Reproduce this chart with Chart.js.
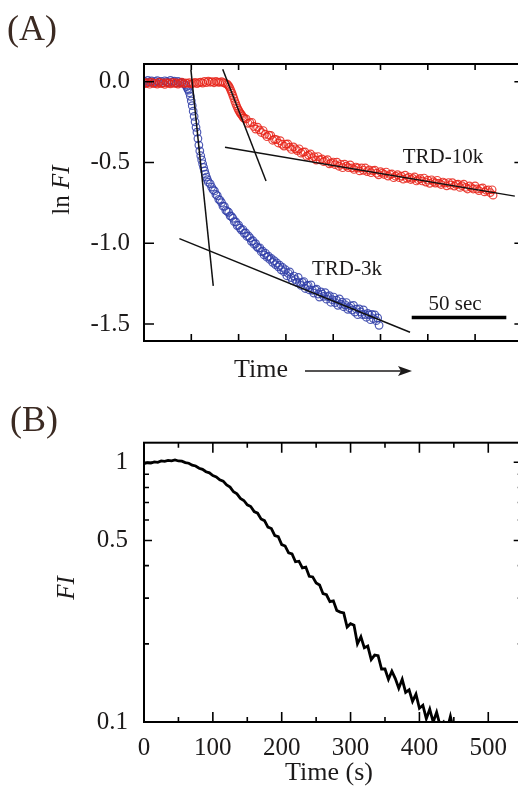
<!DOCTYPE html>
<html>
<head>
<meta charset="utf-8">
<script src="https://cdn.jsdelivr.net/npm/chart.js@4.4.0/dist/chart.umd.min.js"></script>
<style>
  html, body { margin: 0; padding: 0; background: #fff; width: 518px; height: 796px; overflow: hidden; }
  canvas { position: absolute; left: 0; }
  #chartA { top: 0; }
  #chartB { top: 400px; }
</style>
</head>
<body>
<canvas id="chartA" width="540" height="400"></canvas>
<canvas id="chartB" width="540" height="396"></canvas>
<script>
// ---- panel (A): ln FI against time (s), no tick labels on time ----
const xTicksA = [0, 25, 50, 75, 100, 125, 150, 175, 200];
const yTicksA = [-1.5, -1.0, -0.5, 0.0];

const blueTime = [0,1,2,3,4,5,6,7,8,9,10,11,12,13,14,15,16,17,18,19,20,21,
  22,22.5,23,23.5,24,24.5,25,25.5,26,26.5,27,27.5,28,28.5,29,29.5,30,30.5,31,31.5,32,32.5,33,33.5,34,
  35,35.75,36.5,37.25,38,38.75,39.5,40.25,41,41.75,42.5,43.25,44,44.75,45.5,46.25,47,47.75,48.5,49.25,
  50,50.75,51.5,52.25,53,53.75,54.5,55.25,56,56.75,57.5,58.25,59,59.75,60.5,61.25,62,62.75,63.5,64.25,
  65,65.75,66.5,67.25,68,68.75,69.5,70.25,71,71.75,72.5,73.25,74,
  74.75,75.5,76.25,77,77.75,78.5,79.25,80,80.75,81.5,82.25,83,83.75,84.5,85.25,86,86.75,87.5,88.25,89,
  89.75,90.5,91.25,92,92.75,93.5,94.25,95,95.75,96.5,97.25,98,98.75,99.5,100.25,101,101.75,102.5,103.25,104,
  104.75,105.5,106.25,107,107.75,108.5,109.25,110,110.75,111.5,112.25,113,113.75,114.5,115.25,116,116.75,117.5,118.25,119,
  119.75,120.5,121.25,122,122.75,123.5,124.25];
const blueLnFI = [0.004,-0.006,0.008,-0.002,0.005,-0.009,0.001,0.007,-0.004,0.003,-0.007,0.006,0.000,-0.005,0.008,-0.003,0.004,-0.008,0.002,-0.006,-0.004,-0.012,
  -0.020,-0.030,-0.042,-0.052,-0.068,-0.090,-0.118,-0.148,-0.182,-0.214,-0.248,-0.282,-0.312,-0.352,-0.392,-0.428,-0.458,-0.484,-0.508,-0.530,-0.552,-0.572,-0.590,-0.606,-0.622,
  -0.632,-0.652,-0.668,-0.676,-0.698,-0.705,-0.728,-0.734,-0.748,-0.770,-0.772,-0.796,-0.802,-0.808,-0.830,-0.834,-0.845,-0.866,-0.868,-0.890,
  -0.888,-0.906,-0.918,-0.915,-0.938,-0.936,-0.958,-0.955,-0.966,-0.988,-0.984,-1.006,-1.002,-1.022,-1.030,-1.028,-1.052,-1.048,-1.072,-1.062,
  -1.086,-1.080,-1.100,-1.094,-1.118,-1.108,-1.132,-1.122,-1.146,-1.136,-1.164,-1.150,-1.176,
  -1.164,-1.201,-1.186,-1.177,-1.212,-1.232,-1.203,-1.224,-1.242,-1.211,-1.244,-1.261,-1.242,-1.237,-1.280,-1.263,-1.260,-1.289,-1.258,-1.291,
  -1.308,-1.289,-1.284,-1.314,-1.333,-1.301,-1.315,-1.329,-1.306,-1.346,-1.330,-1.324,-1.365,-1.349,-1.333,-1.367,-1.352,-1.384,-1.344,-1.377,
  -1.365,-1.393,-1.381,-1.367,-1.409,-1.399,-1.387,-1.413,-1.385,-1.426,-1.408,-1.442,-1.406,-1.425,-1.441,-1.412,-1.442,-1.458,-1.434,-1.443,
  -1.473,-1.440,-1.466,-1.443,-1.479,-1.462,-1.508];

const redTime = [0,1,2,3,4,5,6,7,8,9,10,11,12,13,14,15,16,17,18,19,20,21,22,23,24,25,26,27,28,29,30,31,32,33,34,35,36,37,38,39,40,41,42,43,
  44,44.5,45,45.5,46,46.5,47,47.5,48,48.5,49,49.5,50,50.5,51,51.5,52,52.5,53,
  54,55,56,57,58,59,60,61,62,63,64,65,66,67,68,69,70,71,72,73,74,75,76,77,78,79,80,81,82,83,84,85,86,87,88,89,90,91,92,93,94,95,96,97,98,99,
  100,101,102,103,104,105,106,107,108,109,110,111,112,113,114,115,116,117,118,119,120,121,122,123,124,125,126,127,128,129,130,131,132,133,134,135,136,137,138,139,
  140,141,142,143,144,145,146,147,148,149,150,151,152,153,154,155,156,157,158,159,160,161,162,163,164,165,166,167,168,169,170,171,172,173,174,175,176,177,178,179,
  180,181,182,183,184,184.5];
const redLnFI = [-0.004,-0.012,-0.006,-0.015,-0.002,-0.010,-0.008,-0.014,-0.003,-0.011,-0.007,-0.016,-0.005,-0.009,-0.013,-0.004,-0.010,-0.006,-0.014,-0.008,-0.003,-0.012,
  -0.007,-0.010,-0.005,-0.013,-0.009,-0.004,-0.011,-0.006,-0.002,-0.008,0.002,-0.005,0.004,-0.003,0.001,-0.006,0.003,-0.002,-0.004,0.001,-0.006,-0.010,
  -0.015,-0.022,-0.030,-0.042,-0.056,-0.070,-0.086,-0.102,-0.120,-0.136,-0.150,-0.164,-0.176,-0.186,-0.196,-0.204,-0.212,-0.222,-0.226,
  -0.230,-0.257,-0.253,-0.251,-0.277,-0.293,-0.281,-0.298,-0.314,-0.302,-0.325,-0.340,-0.331,-0.332,-0.362,-0.356,-0.358,-0.379,-0.365,-0.387,
  -0.398,-0.387,-0.385,-0.405,-0.419,-0.403,-0.415,-0.426,-0.415,-0.442,-0.435,-0.434,-0.461,-0.454,-0.447,-0.470,-0.463,-0.485,-0.463,-0.484,
  -0.478,-0.495,-0.489,-0.482,-0.508,-0.502,
  -0.497,-0.513,-0.498,-0.523,-0.511,-0.532,-0.510,-0.522,-0.532,-0.515,-0.533,-0.543,-0.528,-0.534,-0.552,-0.533,-0.548,-0.534,-0.556,-0.546,
  -0.563,-0.551,-0.547,-0.566,-0.576,-0.557,-0.566,-0.574,-0.559,-0.584,-0.574,-0.571,-0.594,-0.585,-0.575,-0.594,-0.584,-0.603,-0.578,-0.598,
  -0.590,-0.605,-0.598,-0.589,-0.614,-0.606,-0.599,-0.614,-0.596,-0.621,-0.609,-0.629,-0.607,-0.618,-0.627,-0.610,-0.628,-0.636,-0.621,-0.627,
  -0.644,-0.624,-0.639,-0.625,-0.646,-0.635,-0.634,-0.654,-0.643,-0.634,-0.654,-0.664,-0.645,-0.655,-0.664,-0.645,-0.664,-0.674,-0.661,-0.657,
  -0.682,-0.672,-0.669,-0.686,-0.669,-0.702];

// straight-line fits drawn over the data, [time, ln FI] end points
const fitLinesA = [
  [[24.8, 0.074], [36.6, -1.264]],
  [[18.7, -0.971], [140.6, -1.551]],
  [[41.6, 0.078], [64.5, -0.615]],
  [[42.8, -0.405], [196.0, -0.708]]
];
const scaleBarA = [[141.5, -1.46], [191.5, -1.46]];

// ---- panel (B): FI against time (s), log axis ----
const xTicksB = [0, 100, 200, 300, 400, 500];
const xMinorB = [50, 150, 250, 350, 450];
const yTicksB = [0.1, 0.5, 1];
const yMinorB = [0.2, 0.3, 0.4, 0.6, 0.7, 0.8, 0.9];
const bTime = [0,5,10,15,20,25,30,35,40,45,50,55,60,65,70,75,80,85,90,95,
  100,105,110,115,120,125,130,135,140,145,150,155,160,165,170,175,180,185,190,195,
  200,205,210,215,220,225,230,235,240,245,250,255,260,265,270,275,280,285,290,295,
  300,305,310,315,320,325,330,335,340,345,350,355,360,365,370,375,380,385,390,395,
  400,405,410,415,420,425,430,435,440,445,450,455];
const bFI = [0.988,0.996,0.993,1.003,1.000,1.012,1.008,1.017,1.013,1.021,1.012,1.010,0.998,0.992,0.975,0.968,0.949,0.940,0.920,0.911,
  0.889,0.879,0.856,0.846,0.818,0.803,0.770,0.756,0.726,0.713,0.686,0.676,0.646,0.637,0.605,0.596,0.563,0.556,0.522,0.517,
  0.482,0.476,0.448,0.444,0.414,0.416,0.392,0.395,0.364,0.362,0.343,0.337,0.312,0.309,0.291,0.293,0.269,0.265,0.263,0.232,
  0.239,0.236,0.200,0.213,0.193,0.196,0.174,0.181,0.180,0.160,0.160,0.146,0.157,0.147,0.135,0.146,0.130,0.133,0.120,0.128,
  0.113,0.116,0.103,0.112,0.100,0.109,0.097,0.100,0.093,0.105,0.092,0.094];

const serif = '"Liberation Serif", "Times New Roman", serif';
const ink = '#1c1a1a';
const panelInk = '#3b2a22';

const pts = (xs, ys) => xs.map((t, i) => ({ x: t, y: ys[i] }));
const seg = s => s.map(p => ({ x: p[0], y: p[1] }));

// box round the plot with ticks pointing inward
const framePlugin = {
  id: 'frame',
  afterDraw(chart, args, o) {
    const { ctx, chartArea: a, scales: { x, y } } = chart;
    ctx.save();
    ctx.strokeStyle = '#000';
    ctx.lineWidth = 2;
    ctx.strokeRect(a.left, a.top, a.right - a.left, a.bottom - a.top);
    ctx.lineWidth = 1.6;
    ctx.beginPath();
    o.xMarks.forEach(([vals, len]) => vals.forEach(v => {
      const px = x.getPixelForValue(v);
      ctx.moveTo(px, a.top); ctx.lineTo(px, a.top + len[0]);
      ctx.moveTo(px, a.bottom); ctx.lineTo(px, a.bottom - len[1]);
    }));
    o.yMarks.forEach(([vals, len]) => vals.forEach(v => {
      const py = y.getPixelForValue(v);
      ctx.moveTo(a.left, py); ctx.lineTo(a.left + len[0], py);
      ctx.moveTo(a.right, py); ctx.lineTo(a.right - len[1], py);
    }));
    ctx.stroke();
    ctx.restore();
  }
};

function rotatedLabel(ctx, cx, cy, parts, size) {
  ctx.save();
  ctx.translate(cx, cy);
  ctx.rotate(-Math.PI / 2);
  ctx.textBaseline = 'middle';
  ctx.textAlign = 'left';
  let total = 0;
  parts.forEach(p => { ctx.font = `${p[1] ? 'italic ' : ''}${size}px ${serif}`; total += ctx.measureText(p[0]).width; });
  let pos = -total / 2;
  parts.forEach(p => {
    ctx.font = `${p[1] ? 'italic ' : ''}${size}px ${serif}`;
    ctx.fillText(p[0], pos, 0);
    pos += ctx.measureText(p[0]).width;
  });
  ctx.restore();
}

const textA = {
  id: 'textA',
  afterDraw(chart) {
    const { ctx, scales: { x, y } } = chart;
    ctx.save();
    ctx.fillStyle = panelInk;
    ctx.textBaseline = 'middle';
    ctx.font = `36px ${serif}`;
    ctx.fillText('(A)', 7, 31);
    ctx.fillStyle = ink;
    ctx.textAlign = 'center';
    ctx.font = `21px ${serif}`;
    ctx.fillText('TRD-10k', x.getPixelForValue(158), y.getPixelForValue(-0.469));
    ctx.fillText('TRD-3k', x.getPixelForValue(107.3), y.getPixelForValue(-1.165));
    ctx.fillText('50 sec', x.getPixelForValue(164.4), y.getPixelForValue(-1.377));
    ctx.font = `26px ${serif}`;
    ctx.fillText('Time', 261, 370);
    // arrow after "Time"
    ctx.strokeStyle = ink;
    ctx.lineWidth = 1.6;
    ctx.beginPath(); ctx.moveTo(305, 371); ctx.lineTo(402, 371); ctx.stroke();
    ctx.beginPath(); ctx.moveTo(412, 371); ctx.lineTo(398, 366); ctx.lineTo(401, 371); ctx.lineTo(398, 376); ctx.closePath(); ctx.fill();
    rotatedLabel(ctx, 62, 190, [['ln ', false], ['FI', true]], 25);
    ctx.restore();
  }
};

const textB = {
  id: 'textB',
  afterDraw(chart) {
    const { ctx } = chart;
    ctx.save();
    ctx.fillStyle = panelInk;
    ctx.textBaseline = 'middle';
    ctx.font = `36px ${serif}`;
    ctx.fillText('(B)', 10, 22);
    ctx.fillStyle = ink;
    ctx.textAlign = 'center';
    ctx.font = `26px ${serif}`;
    ctx.fillText('Time (s)', 329, 373);
    rotatedLabel(ctx, 67, 188, [['FI', true]], 25);
    ctx.restore();
  }
};

const circle = color => ({
  borderColor: color, backgroundColor: 'rgba(0,0,0,0)',
  pointRadius: 3.8, pointBorderWidth: 1.2, showLine: false
});
const tickFont = { family: serif, size: 25 };
const noGrid = { display: false, drawTicks: false };

new Chart(document.getElementById('chartA'), {
  type: 'scatter',
  data: {
    datasets: [
      ...fitLinesA.map(s => ({ type: 'line', data: seg(s), borderColor: '#111', borderWidth: 1.5, pointRadius: 0, order: 0 })),
      { type: 'line', data: seg(scaleBarA), borderColor: '#000', borderWidth: 3.5, pointRadius: 0, order: 0 },
      { label: 'TRD-10k', data: pts(redTime, redLnFI), ...circle('rgba(232,36,26,0.85)'), order: 1 },
      { label: 'TRD-3k', data: pts(blueTime, blueLnFI), ...circle('rgba(48,62,168,0.85)'), order: 2 }
    ]
  },
  options: {
    responsive: false, animation: false, events: [],
    layout: { padding: { left: 0, top: 64, right: 17.6, bottom: 0 } },
    plugins: {
      legend: { display: false }, tooltip: { enabled: false },
      frame: { xMarks: [[xTicksA, [6, 7]]], yMarks: [[yTicksA, [10, 8]]] }
    },
    scales: {
      x: {
        type: 'linear', min: 0, max: 200,
        grid: noGrid, border: { display: false }, ticks: { display: false },
        afterFit(s) { s.height = 59; }
      },
      y: {
        type: 'linear', min: -1.605, max: 0.11,
        grid: noGrid, border: { display: false },
        afterBuildTicks(s) { s.ticks = yTicksA.map(v => ({ value: v })); },
        ticks: { padding: 14, color: ink, font: tickFont, callback: v => v.toFixed(1) },
        afterFit(s) { s.width = 144; }
      }
    }
  },
  plugins: [framePlugin, textA]
});

new Chart(document.getElementById('chartB'), {
  type: 'line',
  data: {
    datasets: [{ data: pts(bTime, bFI), borderColor: '#000', borderWidth: 2.8, pointRadius: 0, tension: 0 }]
  },
  options: {
    responsive: false, animation: false, events: [],
    layout: { padding: { left: 0, top: 42.7, right: 17.3, bottom: 0 } },
    plugins: {
      legend: { display: false }, tooltip: { enabled: false },
      frame: {
        xMarks: [[xTicksB, [10, 10]], [xMinorB, [5, 5]]],
        yMarks: [[yTicksB.slice(1), [8, 9]], [yMinorB, [5, 5]]]
      }
    },
    scales: {
      x: {
        type: 'linear', min: 0, max: 550,
        grid: noGrid, border: { display: false },
        afterBuildTicks(s) { s.ticks = xTicksB.map(v => ({ value: v })); },
        ticks: { padding: 11, color: ink, font: tickFont, maxRotation: 0, autoSkip: false, callback: v => String(v) },
        afterFit(s) { s.height = 74; }
      },
      y: {
        type: 'logarithmic', min: 0.1, max: 1.19,
        grid: noGrid, border: { display: false },
        afterBuildTicks(s) { s.ticks = yTicksB.map(v => ({ value: v })); },
        ticks: { padding: 16, color: ink, font: tickFont, callback: v => String(v) },
        afterFit(s) { s.width = 144; }
      }
    }
  },
  plugins: [framePlugin, textB]
});
</script>
</body>
</html>
